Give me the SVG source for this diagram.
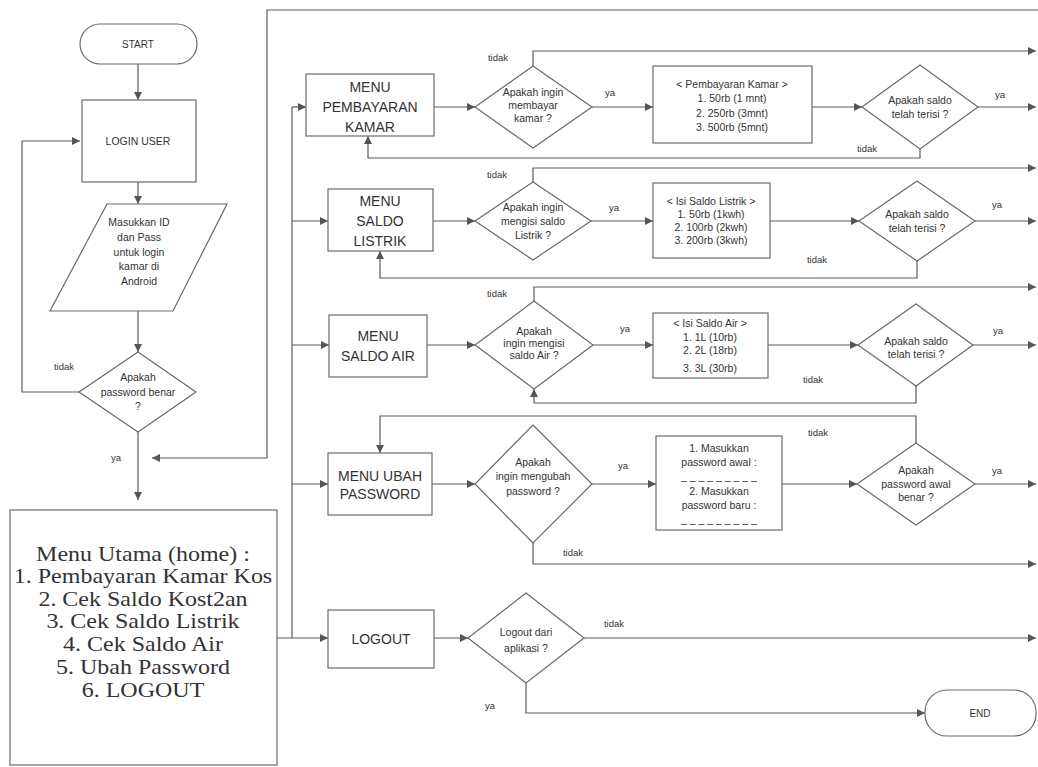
<svg xmlns="http://www.w3.org/2000/svg" width="1038" height="767" viewBox="0 0 1038 767">
  <defs>
    <marker id="arrow" markerUnits="userSpaceOnUse" markerWidth="9" markerHeight="8" refX="8" refY="4" orient="auto">
      <path d="M0,0 L8,4 L0,8 z" fill="#555"/>
    </marker>
    <style>
      .shape { fill: #fff; stroke: #6a6a6a; stroke-width: 1.2; }
      .conn { fill: none; stroke: #5a5a5a; stroke-width: 1.2; }
      .arr { marker-end: url(#arrow); }
      text { font-family: "Liberation Sans", Arial, sans-serif; fill: #333; text-anchor: middle; dominant-baseline: central; }
      .t10 { font-size: 10px; }
      .t11 { font-size: 10.5px; }
      .menu { font-size: 14px; }
      .lbl { font-size: 9.5px; }
      .serif { font-family: "Liberation Serif", "Times New Roman", serif; font-size: 20px; }
    </style>
  </defs>
  <rect width="1038" height="767" fill="#fff"/>

  <!-- connectors -->
  <g id="connectors">
    <!-- login column -->
    <path class="conn arr" d="M138,64 V100"/>
    <path class="conn arr" d="M138,182 V204"/>
    <path class="conn arr" d="M138,311 V352"/>
    <path class="conn arr" d="M79,392 H22 V141 H80"/>
    <path class="conn arr" d="M138,432 V500"/>
    <!-- return to main menu -->
    <path class="conn arr" d="M1038,10 H267 V458 H152"/>
    <!-- main menu distribution -->
    <path class="conn arr" d="M277,638 H328"/>
    <path class="conn" d="M292,107 V638"/>
    <path class="conn arr" d="M292,107 H306"/>
    <path class="conn arr" d="M292,221 H328"/>
    <path class="conn arr" d="M292,345 H329"/>
    <path class="conn arr" d="M292,484 H328"/>

    <!-- row: pembayaran kamar -->
    <path class="conn arr" d="M434,107 H475"/>
    <path class="conn arr" d="M592,107 H653"/>
    <path class="conn arr" d="M812,107 H862"/>
    <path class="conn arr" d="M978,107 H1036"/>
    <path class="conn arr" d="M533,66 V51 H1036"/>
    <path class="conn arr" d="M920,149 V158 H368 V136"/>

    <!-- row: saldo listrik -->
    <path class="conn arr" d="M433,221 H475"/>
    <path class="conn arr" d="M591,221 H653"/>
    <path class="conn arr" d="M770,221 H859"/>
    <path class="conn arr" d="M975,221 H1036"/>
    <path class="conn arr" d="M533,182 V168 H1036"/>
    <path class="conn arr" d="M917,261 V278 H380 V251"/>

    <!-- row: saldo air -->
    <path class="conn arr" d="M427,345 H475"/>
    <path class="conn arr" d="M593,345 H653"/>
    <path class="conn arr" d="M768,345 H858"/>
    <path class="conn arr" d="M973,345 H1036"/>
    <path class="conn arr" d="M534,301 V287 H1036"/>
    <path class="conn arr" d="M916,386 V403 H534 V389"/>

    <!-- row: ubah password -->
    <path class="conn arr" d="M432,484 H475"/>
    <path class="conn arr" d="M592,484 H656"/>
    <path class="conn arr" d="M782,484 H857"/>
    <path class="conn arr" d="M975,484 H1036"/>
    <path class="conn arr" d="M916,443 V416 H380 V453"/>
    <path class="conn arr" d="M533,543 V564 H1036"/>

    <!-- row: logout -->
    <path class="conn arr" d="M434,638 H468"/>
    <path class="conn arr" d="M584,638 H1036"/>
    <path class="conn arr" d="M526,683 V713 H925"/>

    <!-- branch labels -->
    <text class="lbl" x="64" y="366">tidak</text>
    <text class="lbl" x="116" y="457">ya</text>
    <text class="lbl" x="498" y="57">tidak</text>
    <text class="lbl" x="610" y="92">ya</text>
    <text class="lbl" x="1000" y="94">ya</text>
    <text class="lbl" x="867" y="148">tidak</text>
    <text class="lbl" x="497" y="174">tidak</text>
    <text class="lbl" x="614" y="207">ya</text>
    <text class="lbl" x="997" y="204">ya</text>
    <text class="lbl" x="817" y="259">tidak</text>
    <text class="lbl" x="497" y="293">tidak</text>
    <text class="lbl" x="625" y="328">ya</text>
    <text class="lbl" x="998" y="330">ya</text>
    <text class="lbl" x="813" y="379">tidak</text>
    <text class="lbl" x="818" y="432">tidak</text>
    <text class="lbl" x="623" y="465">ya</text>
    <text class="lbl" x="997" y="470">ya</text>
    <text class="lbl" x="573" y="552">tidak</text>
    <text class="lbl" x="614" y="623">tidak</text>
    <text class="lbl" x="490" y="705">ya</text>
  </g>

  <!-- login column nodes -->
  <g id="start">
    <rect class="shape" x="80" y="24" width="117" height="40" rx="20"/>
    <text class="t10" x="138" y="44">START</text>
  </g>
  <g id="login-user">
    <rect class="shape" x="82" y="100" width="114" height="82"/>
    <text class="t11" x="138" y="141">LOGIN USER</text>
  </g>
  <g id="input-login">
    <polygon class="shape" points="107,204 227,204 173,311 50,311"/>
    <text class="t11" x="139" y="222">Masukkan ID</text>
    <text class="t11" x="139" y="237">dan Pass</text>
    <text class="t11" x="139" y="252">untuk login</text>
    <text class="t11" x="139" y="266">kamar di</text>
    <text class="t11" x="139" y="281">Android</text>
  </g>
  <g id="cek-password">
    <polygon class="shape" points="138,352 196,392 138,432 79,392"/>
    <text class="t11" x="138" y="377">Apakah</text>
    <text class="t11" x="138" y="392">password benar</text>
    <text class="t11" x="138" y="406">?</text>
  </g>
  <g id="menu-utama">
    <rect class="shape" x="10" y="510" width="267" height="255"/>
    <!-- menu list, widened to fill the box -->
    <g transform="translate(143,0) scale(1.2,1) translate(-143,0)">
      <text class="serif" x="143" y="554">Menu Utama (home) :</text>
      <text class="serif" x="143" y="576">1. Pembayaran Kamar Kos</text>
      <text class="serif" x="143" y="599">2. Cek Saldo Kost2an</text>
      <text class="serif" x="143" y="621">3. Cek Saldo Listrik</text>
      <text class="serif" x="143" y="644">4. Cek Saldo Air</text>
      <text class="serif" x="143" y="667">5. Ubah Password</text>
      <text class="serif" x="143" y="690">6. LOGOUT</text>
    </g>
  </g>

  <!-- pembayaran kamar -->
  <g id="menu-pembayaran">
    <rect class="shape" x="306" y="74" width="128" height="62"/>
    <text class="menu" x="370" y="87">MENU</text>
    <text class="menu" x="370" y="107">PEMBAYARAN</text>
    <text class="menu" x="370" y="127">KAMAR</text>
  </g>
  <g id="tanya-bayar">
    <polygon class="shape" points="533,66 592,107 533,148 475,107"/>
    <text class="t11" x="533" y="92">Apakah ingin</text>
    <text class="t11" x="533" y="105">membayar</text>
    <text class="t11" x="533" y="118">kamar ?</text>
  </g>
  <g id="pilihan-kamar">
    <rect class="shape" x="653" y="66" width="159" height="77"/>
    <text class="t11" x="732" y="84">&lt; Pembayaran Kamar &gt;</text>
    <text class="t11" x="732" y="98">1. 50rb (1 mnt)</text>
    <text class="t11" x="732" y="113">2. 250rb (3mnt)</text>
    <text class="t11" x="732" y="127">3. 500rb (5mnt)</text>
  </g>
  <g id="cek-saldo-kamar">
    <polygon class="shape" points="920,65 978,107 920,149 862,107"/>
    <text class="t11" x="920" y="100">Apakah saldo</text>
    <text class="t11" x="920" y="114">telah terisi ?</text>
  </g>

  <!-- saldo listrik -->
  <g id="menu-listrik">
    <rect class="shape" x="328" y="189" width="105" height="62"/>
    <text class="menu" x="380" y="201">MENU</text>
    <text class="menu" x="380" y="221">SALDO</text>
    <text class="menu" x="380" y="241">LISTRIK</text>
  </g>
  <g id="tanya-listrik">
    <polygon class="shape" points="533,182 591,221 533,260 475,221"/>
    <text class="t11" x="533" y="207">Apakah ingin</text>
    <text class="t11" x="533" y="221">mengisi saldo</text>
    <text class="t11" x="533" y="235">Listrik ?</text>
  </g>
  <g id="pilihan-listrik">
    <rect class="shape" x="653" y="183" width="117" height="75"/>
    <text class="t11" x="711" y="201">&lt; Isi Saldo Listrik &gt;</text>
    <text class="t11" x="711" y="214">1. 50rb (1kwh)</text>
    <text class="t11" x="711" y="227">2. 100rb (2kwh)</text>
    <text class="t11" x="711" y="240">3. 200rb (3kwh)</text>
  </g>
  <g id="cek-saldo-listrik">
    <polygon class="shape" points="917,181 975,221 917,261 859,221"/>
    <text class="t11" x="917" y="214">Apakah saldo</text>
    <text class="t11" x="917" y="228">telah terisi ?</text>
  </g>

  <!-- saldo air -->
  <g id="menu-air">
    <rect class="shape" x="329" y="315" width="98" height="62"/>
    <text class="menu" x="378" y="336">MENU</text>
    <text class="menu" x="378" y="356">SALDO AIR</text>
  </g>
  <g id="tanya-air">
    <polygon class="shape" points="534,301 593,345 534,389 475,345"/>
    <text class="t11" x="534" y="331">Apakah</text>
    <text class="t11" x="534" y="343">ingin mengisi</text>
    <text class="t11" x="534" y="355">saldo Air ?</text>
  </g>
  <g id="pilihan-air">
    <rect class="shape" x="653" y="313" width="115" height="65"/>
    <text class="t11" x="710" y="323">&lt; Isi Saldo Air &gt;</text>
    <text class="t11" x="710" y="337">1. 1L (10rb)</text>
    <text class="t11" x="710" y="350">2. 2L (18rb)</text>
    <text class="t11" x="710" y="368">3. 3L (30rb)</text>
  </g>
  <g id="cek-saldo-air">
    <polygon class="shape" points="916,304 973,345 916,386 858,345"/>
    <text class="t11" x="916" y="341">Apakah saldo</text>
    <text class="t11" x="916" y="354">telah terisi ?</text>
  </g>

  <!-- ubah password -->
  <g id="menu-ubah-password">
    <rect class="shape" x="328" y="453" width="104" height="62"/>
    <text class="menu" x="380" y="476">MENU UBAH</text>
    <text class="menu" x="380" y="494">PASSWORD</text>
  </g>
  <g id="tanya-ubah">
    <polygon class="shape" points="533,425 592,484 533,543 475,484"/>
    <text class="t11" x="533" y="462">Apakah</text>
    <text class="t11" x="533" y="476">ingin mengubah</text>
    <text class="t11" x="533" y="491">password ?</text>
  </g>
  <g id="input-password">
    <rect class="shape" x="656" y="436" width="126" height="94"/>
    <text class="t11" x="719" y="448">1. Masukkan</text>
    <text class="t11" x="719" y="462">password awal :</text>
    <text class="t11" x="719" y="476">_ _ _ _ _ _ _ _ _</text>
    <text class="t11" x="719" y="491">2. Masukkan</text>
    <text class="t11" x="719" y="505">password baru :</text>
    <text class="t11" x="719" y="519">_ _ _ _ _ _ _ _ _</text>
  </g>
  <g id="cek-password-awal">
    <polygon class="shape" points="916,443 975,484 916,525 857,484"/>
    <text class="t11" x="916" y="470">Apakah</text>
    <text class="t11" x="916" y="484">password awal</text>
    <text class="t11" x="916" y="497">benar ?</text>
  </g>

  <!-- logout -->
  <g id="menu-logout">
    <rect class="shape" x="328" y="610" width="106" height="58"/>
    <text class="menu" x="381" y="639">LOGOUT</text>
  </g>
  <g id="tanya-logout">
    <polygon class="shape" points="526,593 584,638 526,683 468,638"/>
    <text class="t11" x="526" y="632">Logout dari</text>
    <text class="t11" x="526" y="648">aplikasi ?</text>
  </g>
  <g id="end">
    <rect class="shape" x="925" y="690" width="111" height="46" rx="22"/>
    <text class="t10" x="980" y="713">END</text>
  </g>
</svg>
